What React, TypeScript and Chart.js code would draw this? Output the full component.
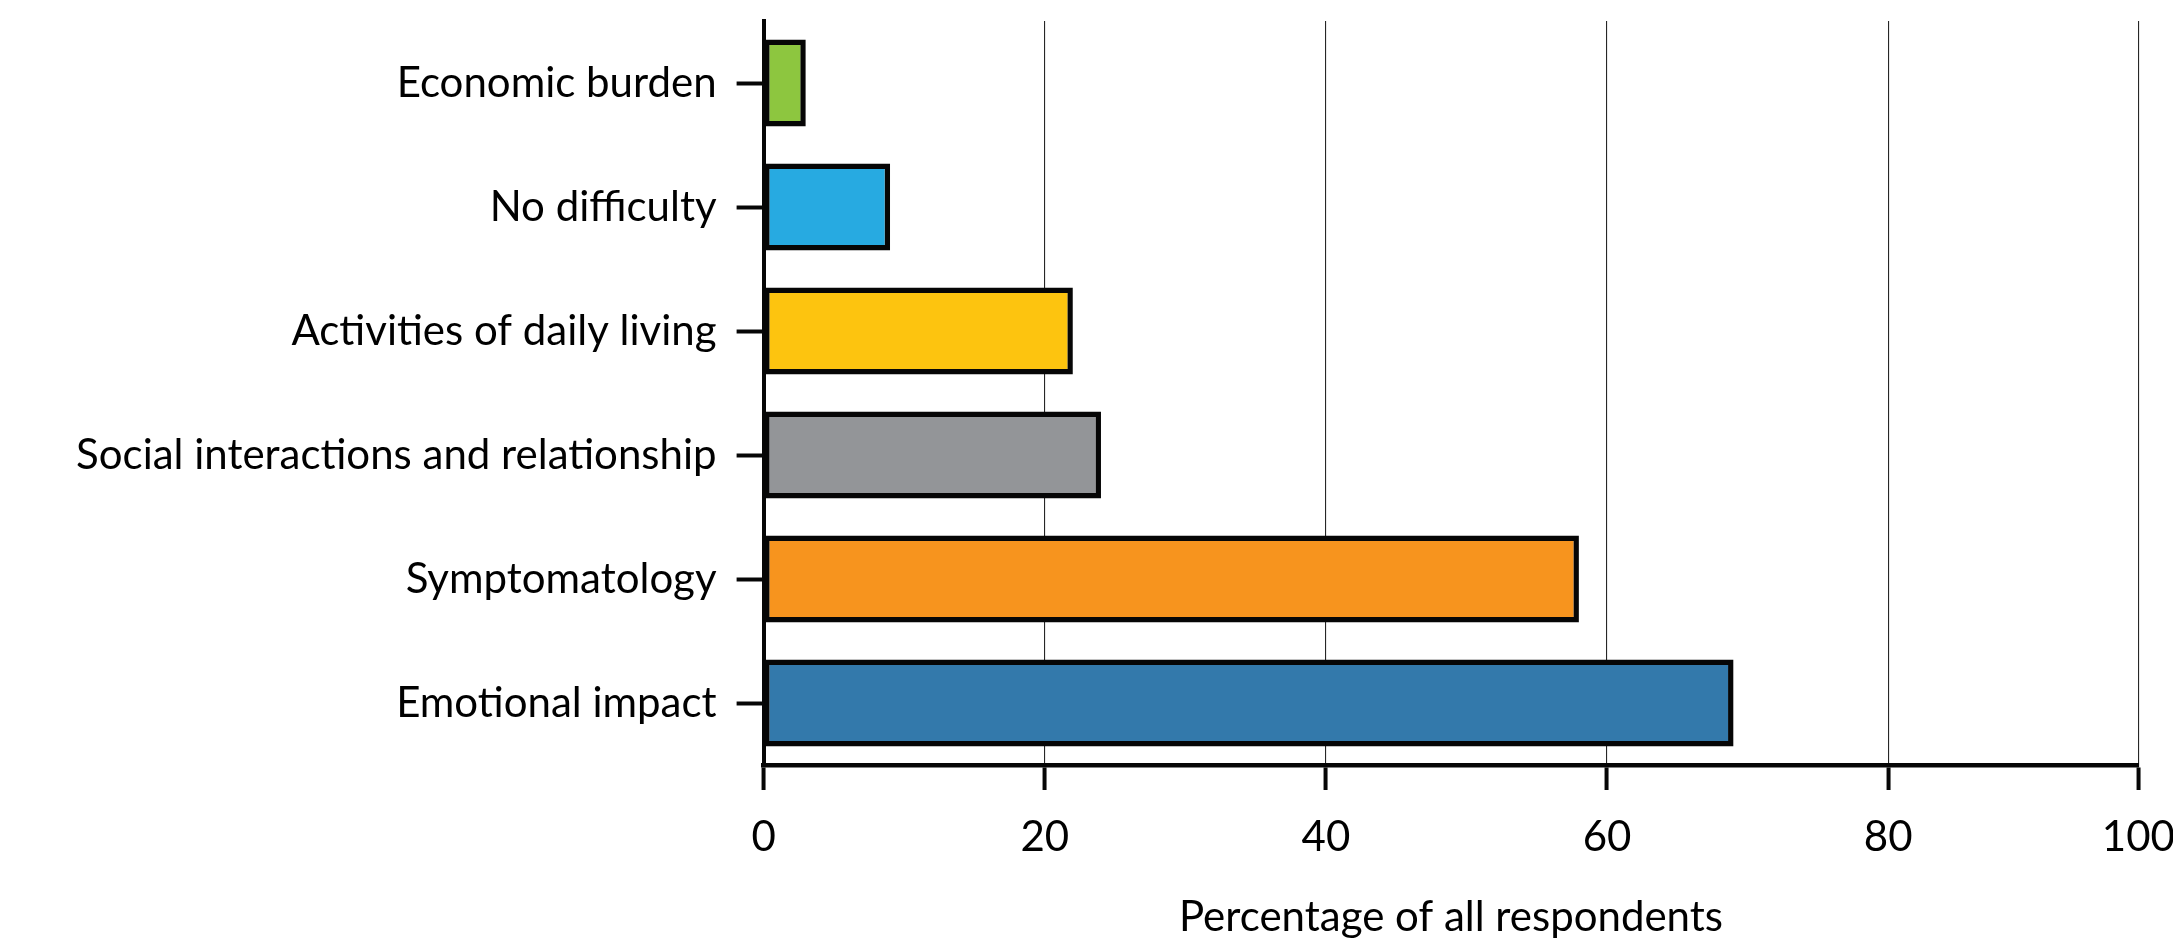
import React, { useEffect, useRef } from "react";
import { Chart, registerables } from "chart.js";

Chart.register(...registerables);

// Reported difficulties, top to bottom
const categories = [
  "Economic burden",
  "No difficulty",
  "Activities of daily living",
  "Social interactions and relationship",
  "Symptomatology",
  "Emotional impact",
];
const percentages = [3, 9, 22, 24, 58, 69];
const barColors = ["#8DC63F", "#27AAE1", "#FDC40F", "#939598", "#F7941E", "#3379AB"];

// Horizontal axis: the last tick sits at the end of the axis line
const axisMax = 97.8;
const tickValues = [0, 20, 40, 60, 80, 97.8];
const tickLabels = ["0", "20", "40", "60", "80", "100"];
const axisTitle = "Percentage of all respondents";

const FONT = "Lato";

export default function App() {
  const canvasRef = useRef<HTMLCanvasElement | null>(null);

  useEffect(() => {
    let chart: Chart | null = null;
    let cancelled = false;

    const build = () => {
      if (cancelled || !canvasRef.current) return;
      chart = new Chart(canvasRef.current, {
        type: "bar",
        data: {
          labels: categories,
          datasets: [
            {
              data: percentages,
              backgroundColor: barColors,
              borderColor: "#060606",
              borderWidth: 5.5,
              borderSkipped: false,
              categoryPercentage: 1,
              barPercentage: 0.7,
            },
          ],
        },
        options: {
          indexAxis: "y",
          responsive: true,
          maintainAspectRatio: false,
          animation: false,
          layout: { padding: { top: 21, left: 0, right: 0, bottom: 0 } },
          plugins: {
            legend: { display: false },
            tooltip: { enabled: false },
          },
          scales: {
            x: {
              type: "linear",
              min: 0,
              max: axisMax,
              afterBuildTicks: (scale: any) => {
                scale.ticks = tickValues.map((v) => ({ value: v }));
              },
              afterFit: (scale: any) => {
                scale.height = 173;
                scale.paddingRight = 34.6;
                scale.paddingLeft = 0;
              },
              ticks: {
                callback: (_v: any, i: number) => tickLabels[i],
                padding: 22,
                color: "#000000",
                font: { family: FONT, size: 42 },
                maxRotation: 0,
              },
              grid: {
                color: "#262626",
                lineWidth: 1.1,
                tickColor: "#060606",
                tickWidth: 4,
                tickLength: 25,
              },
              border: { color: "#060606", width: 4.5 },
              title: {
                display: true,
                text: axisTitle,
                color: "#000000",
                font: { family: FONT, size: 42, lineHeight: 1 },
                padding: { top: 0, bottom: 0 },
              },
            },
            y: {
              afterFit: (scale: any) => {
                scale.width = 763.6;
                scale.paddingTop = 0;
                scale.paddingBottom = 0;
              },
              ticks: {
                padding: 20,
                color: "#000000",
                font: { family: FONT, size: 42 },
              },
              grid: {
                display: true,
                drawOnChartArea: false,
                offset: false,
                tickColor: "#060606",
                tickWidth: 4,
                tickLength: 27,
              },
              border: { color: "#060606", width: 4 },
            },
          },
        },
      });
    };

    if (document.fonts && document.fonts.load) {
      document.fonts.load(`42px ${FONT}`).then(build, build);
    } else {
      build();
    }

    return () => {
      cancelled = true;
      if (chart) chart.destroy();
    };
  }, []);

  return (
    <div
      style={{
        position: "fixed",
        left: 0,
        top: 0,
        width: "2173px",
        height: "938px",
        background: "#ffffff",
      }}
    >
      <canvas ref={canvasRef} />
    </div>
  );
}
